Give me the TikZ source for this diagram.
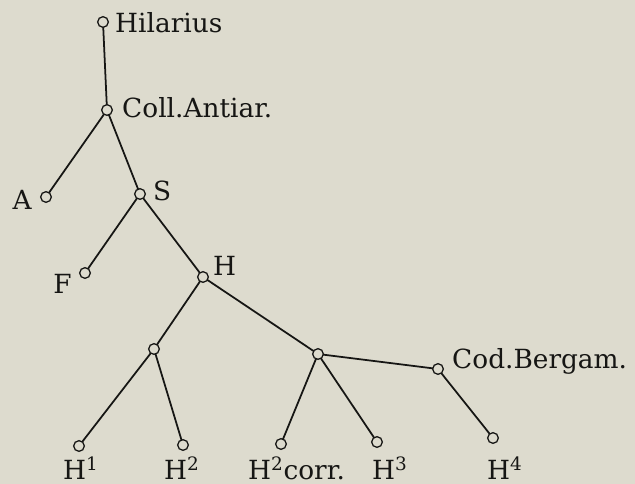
\documentclass[tikz,border=0pt]{standalone}
\usepackage{fontspec}
\setmainfont{DejaVu Serif}
\usetikzlibrary{positioning}
\definecolor{paper}{RGB}{221,219,206}
\definecolor{ink}{RGB}{22,22,20}

\begin{document}
\begin{tikzpicture}[x=0.3mm, y=-0.3mm,
	circ/.style={draw=ink, fill=paper, circle, line width=1.1pt, minimum size=3.2mm, inner sep=0pt},
	lbl/.style={inner sep=0pt, text=ink, font=\fontsize{22.5}{26}\selectfont},
	link/.style={draw=ink, line width=1.5pt}]
			
			%Background
			\useasboundingbox (0,0) rectangle (635,484);
			\fill[paper] (0,0) rectangle (635,484);
			
			%Links
			\coordinate (hil) at (103,22);
			\coordinate (coll) at (107,110);
			\coordinate (a) at (46,197);
			\coordinate (s) at (140,194);
			\coordinate (f) at (85,273);
			\coordinate (h) at (203,277);
			\coordinate (hl) at (154,349);
			\coordinate (hr) at (318,354);
			\coordinate (cod) at (438,369);
			\coordinate (hA) at (79,446);
			\coordinate (hB) at (183,445);
			\coordinate (hBc) at (281,444);
			\coordinate (hC) at (377,442);
			\coordinate (hD) at (493,438);
			
			\draw[link] (hil) -- (coll);
			\draw[link] (coll) -- (a);
			\draw[link] (coll) -- (s);
			\draw[link] (s) -- (f);
			\draw[link] (s) -- (h);
			\draw[link] (h) -- (hl);
			\draw[link] (h) -- (hr);
			\draw[link] (hl) -- (hA);
			\draw[link] (hl) -- (hB);
			\draw[link] (hr) -- (hBc);
			\draw[link] (hr) -- (hC);
			\draw[link] (hr) -- (cod);
			\draw[link] (cod) -- (hD);
			
			%Manuscripts
			\foreach \n in {hil, coll, a, s, f, h, hl, hr, cod, hA, hB, hBc, hC, hD}
			\node (\n Circ) at (\n) [circ] {};
			
			%Variables
			\node (hilLbl) at (115,32) [lbl, anchor=base west] {Hilarius};
			\node (collLbl) at (122,117) [lbl, anchor=base west] {Coll.Antiar.};
			\node (aLbl) at (32,209) [lbl, anchor=base east] {A};
			\node (sLbl) at (153,200) [lbl, anchor=base west] {S};
			\node (fLbl) at (72,293) [lbl, anchor=base east] {F};
			\node (hLbl) at (213,275) [lbl, anchor=base west] {H};
			\node (codLbl) at (452,368) [lbl, anchor=base west] {Cod.Bergam.};
			
			\node (hALbl) at (63,479) [lbl, anchor=base west] {H\textsuperscript{1}};
			\node (hBLbl) at (164,479) [lbl, anchor=base west] {H\textsuperscript{2}};
			\node (hBcLbl) at (248,479) [lbl, anchor=base west] {H\textsuperscript{2}corr.};
			\node (hCLbl) at (372,479) [lbl, anchor=base west] {H\textsuperscript{3}};
			\node (hDLbl) at (487,479) [lbl, anchor=base west] {H\textsuperscript{4}};
			
\end{tikzpicture}
\end{document}
